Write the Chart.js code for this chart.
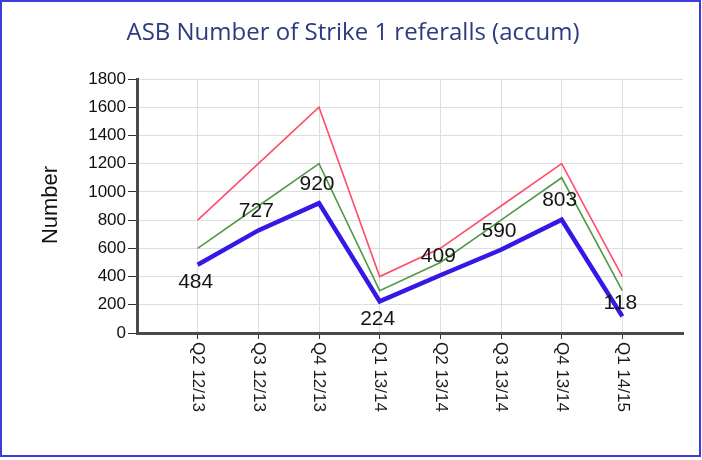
<!DOCTYPE html>
<html>
<head>
<meta charset="utf-8">
<script src="https://cdn.jsdelivr.net/npm/chart.js@4.4.1/dist/chart.umd.min.js"></script>
<style>
    body { margin: 0; background: #fff; }
    #wrap { position: relative; width: 702px; height: 460px; }
    #frame { position: absolute; left: 0; top: 0; width: 697px; height: 453px; border: 2px solid #3c3cdc; pointer-events: none; }
</style>
</head>
<body>
<div id="wrap">
    <canvas id="myChart" width="702" height="460"></canvas>
    <div id="frame"></div>
</div>
<script>
const titleText = 'ASB Number of Strike 1 referalls (accum)';
const yTitle = 'Number';
const quarters = ['Q2 12/13', 'Q3 12/13', 'Q4 12/13', 'Q1 13/14', 'Q2 13/14', 'Q3 13/14', 'Q4 13/14', 'Q1 14/15'];
const actual = [484, 727, 920, 224, 409, 590, 803, 118];
const greenLine = [600, 900, 1200, 300, 500, 800, 1100, 300];
const redLine = [800, 1200, 1600, 400, 600, 900, 1200, 400];
const yMin = 0;
const yMax = 1800;
const yStep = 200;

// points for the linear x scale (one empty slot left and right)
function toPoints(arr) {
    return arr.map((v, i) => ({ x: i, y: v }));
}

// labels under the point for these indexes, otherwise above
const belowIdx = [0, 3];

const textPlugin = {
    id: 'texts',
    afterDraw(chart) {
        const ctx = chart.ctx;
        const xs = chart.scales.x;
        const area = chart.chartArea;

        ctx.save();

        // title
        ctx.fillStyle = '#2b3b7e';
        ctx.font = '24px "Open Sans"';
        ctx.textAlign = 'center';
        ctx.textBaseline = 'middle';
        ctx.fillText(titleText, 353, 33);

        // y title
        ctx.save();
        ctx.translate(51, 205);
        ctx.rotate(-Math.PI / 2);
        ctx.fillStyle = '#111';
        ctx.font = '22px "Liberation Sans"';
        ctx.fillText(yTitle, 0, 0);
        ctx.restore();

        // x labels, read top to bottom
        ctx.font = '17px "Liberation Sans"';
        ctx.fillStyle = '#1a1a1a';
        for (let i = 0; i !== quarters.length; i++) {
            ctx.save();
            ctx.translate(xs.getPixelForValue(i), area.bottom + 9);
            ctx.rotate(Math.PI / 2);
            ctx.textAlign = 'left';
            ctx.textBaseline = 'middle';
            ctx.fillText(quarters[i], 0, 0);
            ctx.restore();
        }

        // value labels on the blue line
        const meta = chart.getDatasetMeta(2);
        ctx.font = '21px "Liberation Sans"';
        ctx.fillStyle = '#151515';
        ctx.textAlign = 'center';
        ctx.textBaseline = 'middle';
        for (let i = 0; i !== meta.data.length; i++) {
            const pt = meta.data[i];
            let dy = belowIdx.includes(i) ? 18 : -19;
            if (i === meta.data.length - 1) dy = -13;
            ctx.fillText(String(actual[i]), pt.x - 2, pt.y + dy);
        }

        ctx.restore();
    }
};

const chartData = {
    datasets: [{
        label: 'red',
        data: toPoints(redLine),
        borderColor: '#ff4d6a',
        borderWidth: 1.6,
        pointRadius: 0
    },
    {
        label: 'green',
        data: toPoints(greenLine),
        borderColor: '#4f9a45',
        borderWidth: 1.6,
        pointRadius: 0
    },
    {
        label: 'actual',
        data: toPoints(actual),
        borderColor: '#3418e6',
        borderWidth: 4.5,
        pointRadius: 0
    }]
};

const inRange = v => v >= 0 && v < quarters.length;

const config = {
    type: 'line',
    data: chartData,
    options: {
        responsive: false,
        animation: false,
        devicePixelRatio: 1,
        layout: {
            padding: { top: 79, right: 19, left: 0, bottom: 0 }
        },
        scales: {
            x: {
                type: 'linear',
                min: -1,
                max: quarters.length,
                afterFit: scale => { scale.height = 127; },
                ticks: { display: false, stepSize: 1 },
                grid: {
                    color: c => inRange(c.tick.value) ? '#dedede' : 'rgba(0,0,0,0)',
                    tickColor: c => inRange(c.tick.value) ? '#333' : 'rgba(0,0,0,0)',
                    tickLength: 6,
                    lineWidth: 1
                },
                border: { color: '#4a4a4a', width: 3 }
            },
            y: {
                min: yMin,
                max: yMax,
                afterFit: scale => { scale.width = 137; },
                ticks: {
                    stepSize: yStep,
                    color: '#111',
                    font: { family: 'Liberation Sans', size: 17 },
                    padding: 2,
                    callback: v => String(v)
                },
                grid: {
                    color: '#dedede',
                    tickColor: '#333',
                    tickLength: 9,
                    lineWidth: 1
                },
                border: { color: '#4a4a4a', width: 3 }
            }
        },
        plugins: {
            legend: { display: false },
            tooltip: { enabled: false },
            title: { display: false }
        }
    },
    plugins: [textPlugin]
};

new Chart(document.getElementById('myChart'), config);
</script>
</body>
</html>
